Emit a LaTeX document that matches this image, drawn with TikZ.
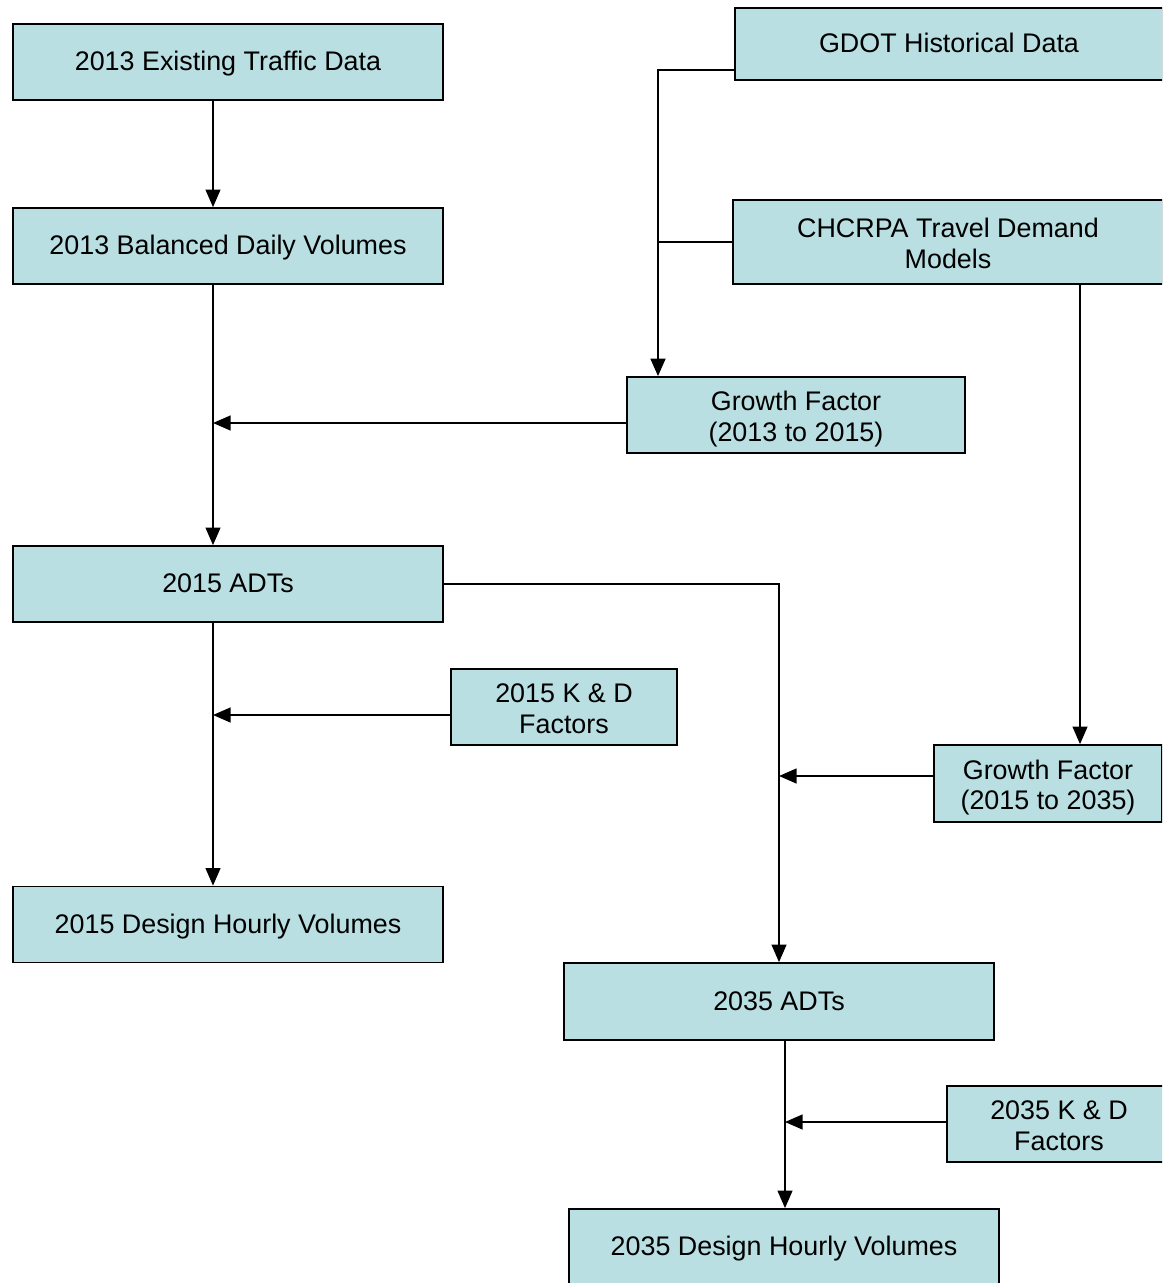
\documentclass[tikz,border=0pt]{standalone}
\usepackage{fontspec}
\setmainfont{Liberation Sans}
\usetikzlibrary{arrows.meta}
\definecolor{boxblue}{RGB}{185,223,226}

\tikzset{
  box/.style={draw, fill=boxblue, line width=1pt, minimum width=8.6cm,
    minimum height=1.52cm, inner sep=0pt, align=center,
    text height=13pt, text depth=3pt,
    font=\fontsize{15.3}{17.3}\selectfont},
  twoline/.style={box, text height=31pt, text depth=1pt},
  link/.style={line width=0.8pt, -{Triangle[length=10pt,width=8.5pt]}},
  feed/.style={line width=0.8pt}
}

\begin{document}
\begin{tikzpicture}[x=0.02cm, y=-0.02cm]
      \clip (0,0) rectangle (1162,1283);
      % spines
      \coordinate (spineA) at (213,0);
      \coordinate (spineB) at (779,0);
      \coordinate (spineC) at (785,0);
      \coordinate (spineG) at (658,0);
      \coordinate (spineM) at (1080,0);
      % left column
      \node[box] (exist) at (228,62) {2013 Existing Traffic Data};
      \node[box] (bal) at (228,246) {2013 Balanced Daily Volumes};
      \node[box] (adt15) at (228,584) {2015 ADTs};
      \node[box] (dhv15) at (228,924.5) {2015 Design Hourly Volumes};
      % right column
      \node[box, minimum width=8.56cm, minimum height=1.44cm] (gdot) at (949,44) {GDOT Historical Data};
      \node[twoline, minimum height=1.68cm] (model) at (948,242) {CHCRPA Travel Demand\\Models};
      \node[twoline, minimum width=6.76cm] (gf13) at (796,415) {Growth Factor\\(2013 to 2015)};
      \node[twoline, minimum width=4.52cm] (kd15) at (564,707) {2015 K \& D\\Factors};
      \node[twoline, minimum width=4.56cm, minimum height=1.54cm] (gf35) at (1048,783.5) {Growth Factor\\(2015 to 2035)};
      \node[box, minimum height=1.54cm] (adt35) at (779,1001.5) {2035 ADTs};
      \node[twoline, minimum width=4.48cm] (kd35) at (1059,1124) {2035 K \& D\\Factors};
      \node[box] (dhv35) at (784,1247) {2035 Design Hourly Volumes};
      % connectors
      \draw[link] (exist.south -| spineA) -- (bal.north -| spineA);
      \draw[link] (bal.south -| spineA) -- (adt15.north -| spineA);
      \draw[link] (adt15.south -| spineA) -- (dhv15.north -| spineA);
      \draw[link] ([yshift=-0.16cm]gf13.west) -- ([yshift=-0.16cm]gf13.west -| spineA);
      \draw[link] ([yshift=-0.16cm]kd15.west) -- ([yshift=-0.16cm]kd15.west -| spineA);
      \draw[link, line width=1.2pt] ([yshift=-0.52cm]gdot.west) -| (gf13.north -| spineG);
      \draw[feed] (model.west) -- (model.west -| spineG);
      \draw[link] (model.south -| spineM) -- (gf35.north -| spineM);
      \draw[link] (adt15.east) -| (adt35.north -| spineB);
      \draw[link] ([yshift=0.15cm]gf35.west) -- ([yshift=0.15cm]gf35.west -| spineB);
      \draw[link] (adt35.south -| spineC) -- (dhv35.north -| spineC);
      \draw[link] ([yshift=0.04cm]kd35.west) -- ([yshift=0.04cm]kd35.west -| spineC);
\end{tikzpicture}
\end{document}
